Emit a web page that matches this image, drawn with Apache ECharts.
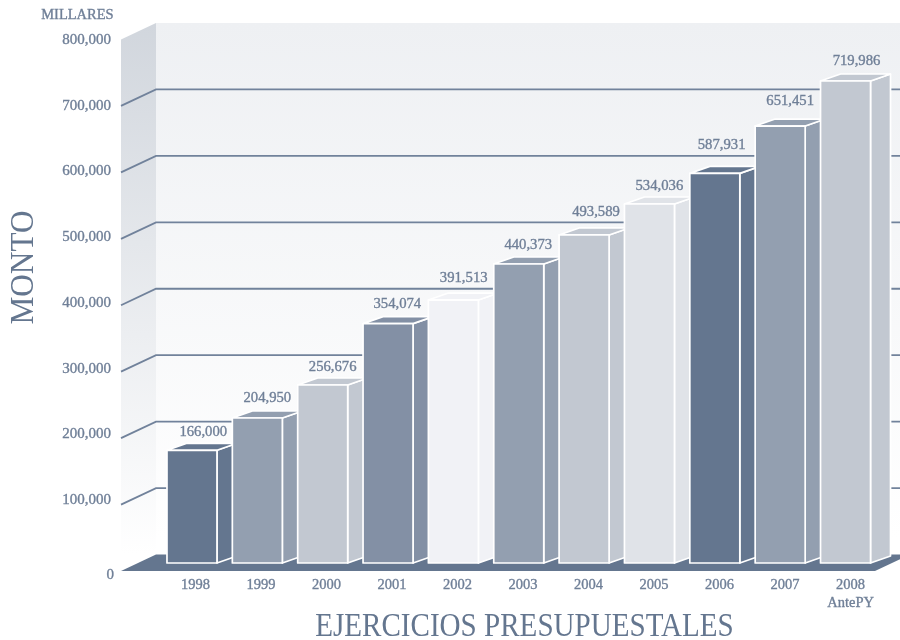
<!DOCTYPE html>
<html>
<head>
<meta charset="utf-8">
<style>html,body{margin:0;padding:0;background:#fff}#chart{width:900px;height:640px}</style>
<script src="https://cdn.jsdelivr.net/npm/echarts@6/dist/echarts.min.js"></script>
</head>
<body>
<div id="chart"></div>
<script>
const years = ['1998', '1999', '2000', '2001', '2002', '2003', '2004', '2005', '2006', '2007', '2008'];
const yearLabels = ['1998', '1999', '2000', '2001', '2002', '2003', '2004', '2005', '2006', '2007', '2008\nAntePY'];
// printed amounts
const montos = [166000, 204950, 256676, 354074, 391513, 440373, 493589, 534036, 587931, 651451, 719986];
// the drawn bars do not quite follow the printed amounts, these are the heights
const barHeights = [168200, 216400, 265700, 357200, 392500, 446300, 489600, 535800, 581600, 652200, 719400];
const gridTicks = [100000, 200000, 300000, 400000, 500000, 600000, 700000];

const barColors = ['#64768f', '#939fb0', '#c2c8d1', '#8390a5', '#f1f2f6', '#939fb0', '#c2c8d1', '#e0e3e8', '#64768f', '#939fb0', '#c2c8d1'];
// hand placement of the printed amounts, measured from the bar's front centre and top
const labelDx = [11.3, 10, 10, 9.3, 10.3, 9.5, 11.9, 9.9, 6.8, 10, 11];
const labelDy = [18.6, 20.3, 18.3, 19.7, 22.3, 19.3, 23.3, 18.3, 28.3, 25.3, 20.3];

const FONT = '"Liberation Serif", serif';
const TEXT = '#6f7f97';
const DARK = '#64768f';
// thin outline so the serif figures carry the weight they have in the original
const BOLDEN = { textBorderColor: TEXT, textBorderWidth: 0.35 };
const BOLDEN_EL = { stroke: TEXT, lineWidth: 0.35 };

// wall / floor depth and bar depth, in pixels
const WALL_DX = 35, WALL_DY = 16.5;
const BAR_DX = 20, BAR_DY = 7;
const BAR_W = 50;

function fmt(v) {
    return String(v).replace(/\B(?=(\d{3})+$)/g, ',');
}

function renderWalls(params, api) {
    const cs = params.coordSys;
    const x0 = cs.x, x1 = cs.x + cs.width;
    const top = api.coord([0, 800000])[1];
    const bottom = api.coord([0, 0])[1];
    const fade = (a) => ({
        type: 'linear', x: 0, y: 0, x2: 0, y2: 1,
        colorStops: [{ offset: 0, color: a }, { offset: 0.97, color: '#ffffff' }, { offset: 1, color: '#ffffff' }]
    });
    return {
        type: 'group',
        children: [
            {
                type: 'polygon',
                shape: { points: [[x0 + WALL_DX, top - WALL_DY], [900, top - WALL_DY], [900, bottom - WALL_DY], [x0 + WALL_DX, bottom - WALL_DY]] },
                style: { fill: fade('#eef0f3') }
            },
            {
                type: 'polygon',
                shape: { points: [[x0, top], [x0 + WALL_DX, top - WALL_DY], [x0 + WALL_DX, bottom - WALL_DY], [x0, bottom]] },
                style: { fill: fade('#d1d6dd') }
            },
            {
                type: 'polygon',
                shape: { points: [[x0, bottom], [x0 + WALL_DX, bottom - WALL_DY], [x1 + WALL_DX, bottom - WALL_DY], [x1, bottom]] },
                style: { fill: DARK }
            }
        ]
    };
}

function renderGridLine(params, api) {
    const x0 = params.coordSys.x;
    const y = api.coord([0, api.value(0)])[1];
    return {
        type: 'polyline',
        shape: { points: [[x0, y], [x0 + WALL_DX, y - WALL_DY], [900, y - WALL_DY]] },
        style: { fill: null, stroke: '#71829b', lineWidth: 1.8 }
    };
}

function renderBar(params, api) {
    const i = params.dataIndex;
    const base = api.coord([i, 0]);
    const top = api.coord([i, api.value(1)]);
    const l = base[0] - BAR_W / 2, r = base[0] + BAR_W / 2;
    const yb = base[1], yt = top[1];
    const style = { fill: barColors[i], stroke: '#ffffff', lineWidth: 1.7, lineJoin: 'round' };
    return {
        type: 'group',
        children: [
            { type: 'polygon', shape: { points: [[r, yb], [r + BAR_DX, yb - BAR_DY], [r + BAR_DX, yt - BAR_DY], [r, yt]] }, style },
            { type: 'polygon', shape: { points: [[l, yt], [l + BAR_DX, yt - BAR_DY], [r + BAR_DX, yt - BAR_DY], [r, yt]] }, style },
            { type: 'rect', shape: { x: l, y: yt, width: BAR_W, height: yb - yt }, style },
            {
                type: 'text',
                style: Object.assign({
                    x: base[0] + labelDx[i], y: yt - labelDy[i],
                    text: fmt(montos[i]),
                    fill: TEXT, font: '14.7px ' + FONT,
                    textAlign: 'center', textVerticalAlign: 'middle'
                }, BOLDEN_EL)
            }
        ]
    };
}

const tickText = { color: TEXT, fontFamily: FONT, fontSize: 15 };

const chart = echarts.init(document.getElementById('chart'), null, { renderer: 'canvas' });
chart.setOption({
    animation: false,
    backgroundColor: '#ffffff',
    grid: [
        { left: 121, right: 25, top: 39.5, bottom: 69 },   // walls and gridlines
        { left: 159.3, right: 21.8, top: 27, bottom: 77 }, // bars, standing a bit in from the floor edge
        { left: 162.85, right: 16.65, top: 39.5, bottom: 69 }, // year labels
        { left: 121, right: 25, top: 40, bottom: 74.3 }    // value labels, slightly tighter than the walls
    ],
    xAxis: [
        { type: 'value', gridIndex: 0, min: 0, max: 1, show: false },
        { type: 'category', gridIndex: 1, data: years, show: false },
        {
            type: 'category', gridIndex: 2, data: yearLabels,
            axisLine: { show: false }, axisTick: { show: false },
            axisLabel: Object.assign({}, BOLDEN, { color: TEXT, fontFamily: FONT, fontSize: 14.5, margin: 5, lineHeight: 18, interval: 0 })
        },
        { type: 'value', gridIndex: 3, min: 0, max: 1, show: false }
    ],
    yAxis: [
        { type: 'value', gridIndex: 0, min: 0, max: 800000, show: false },
        { type: 'value', gridIndex: 1, min: 0, max: 800000, show: false },
        { type: 'value', gridIndex: 2, min: 0, max: 800000, show: false },
        {
            type: 'value', gridIndex: 3, min: 0, max: 800000, interval: 100000,
            axisLine: { show: false }, axisTick: { show: false }, splitLine: { show: false },
            axisLabel: {
                margin: 7,
                formatter: (v) => v === 0 ? '{zero|0}' : '{n|' + fmt(v) + '}',
                rich: {
                    n: Object.assign({}, tickText, BOLDEN, { padding: [0, 3, 0, 0] }),
                    zero: Object.assign({}, tickText, BOLDEN, { padding: [18, 0, 0, 0] })
                }
            }
        }
    ],
    series: [
        { type: 'custom', xAxisIndex: 0, yAxisIndex: 0, z: 1, silent: true, data: [[0]], renderItem: renderWalls },
        { type: 'custom', xAxisIndex: 0, yAxisIndex: 0, z: 2, silent: true, encode: { y: 0 }, data: gridTicks.map(v => [v]), renderItem: renderGridLine },
        { type: 'custom', xAxisIndex: 1, yAxisIndex: 1, z: 3, silent: true, encode: { x: 0, y: 1 }, data: barHeights.map((v, i) => [i, v]), renderItem: renderBar }
    ],
    graphic: [
        { type: 'text', left: 41, top: 8, z: 5, style: Object.assign({ text: 'MILLARES', fill: TEXT, font: '14.5px ' + FONT }, BOLDEN_EL) },
        {
            type: 'text', x: 24, y: 267.5, rotation: Math.PI / 2, scaleX: 0.92, z: 5,
            style: { text: 'MONTO', fill: DARK, font: '34px ' + FONT, textAlign: 'center', textVerticalAlign: 'middle' }
        },
        {
            type: 'text', x: 524.5, y: 627, scaleX: 0.881, z: 5,
            style: { text: 'EJERCICIOS PRESUPUESTALES', fill: DARK, font: '33px ' + FONT, textAlign: 'center', textVerticalAlign: 'middle' }
        }
    ]
});
</script>
</body>
</html>
